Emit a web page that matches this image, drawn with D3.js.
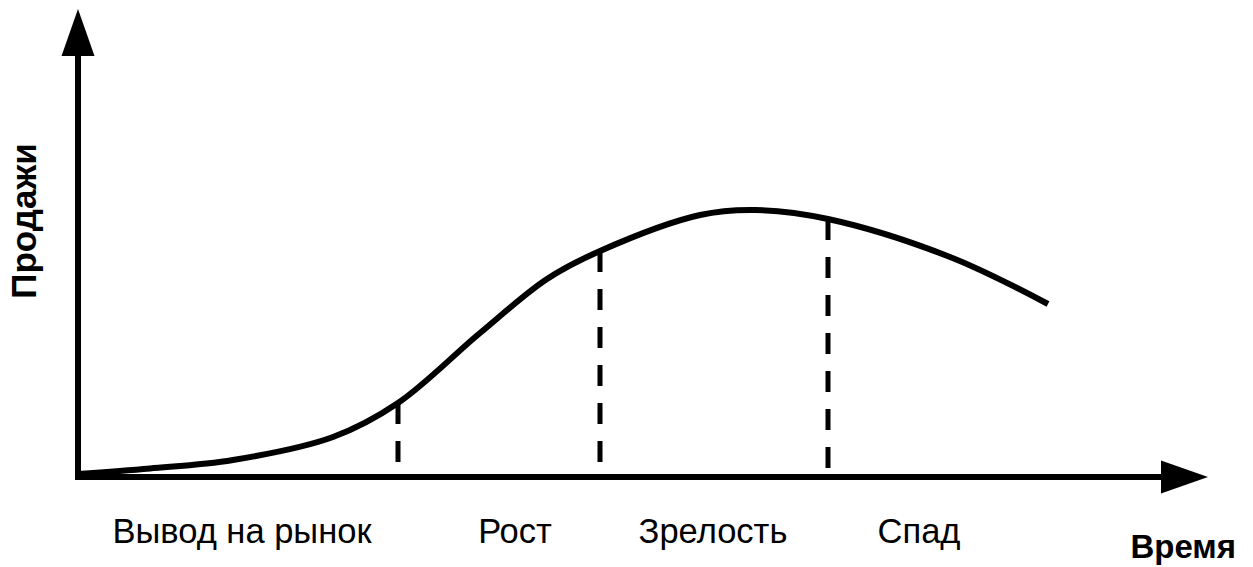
<!DOCTYPE html>
<html>
<head>
<meta charset="utf-8">
<script src="https://cdn.jsdelivr.net/npm/d3@7"></script>
<style>
  html, body { margin: 0; padding: 0; background: #fff; }
  svg { display: block; font-family: "Liberation Sans", Arial, sans-serif; }
</style>
</head>
<body>
<svg id="chart"></svg>
<script>
// time (x) and sales (y)
var times = [0, 7.2, 15.5, 25.5, 32, 40.2, 46.9, 52.2, 62.2, 67.7, 75, 87.2, 97];
var sales = [0.6, 1.7, 3.4, 8, 14.8, 28.8, 39.6, 45.2, 52.4, 53.4, 51.6, 44, 34.6];

// stage boundaries (index into the curve points above)
var boundaryIdx = [4, 7, 10];

var stages = ['Вывод на рынок', 'Рост', 'Зрелость', 'Спад'];
var stageLabelX = [16.4, 43.7, 63.5, 84.1];

var xLabel = 'Время';
var yLabel = 'Продажи';

var width = 1253, height = 567;

var svg = d3.select('#chart')
    .attr('width', width)
    .attr('height', height);

// set the ranges
var x = d3.scaleLinear().domain([0, 113]).range([78, 1208]);
var y = d3.scaleLinear().domain([0, 93.6]).range([477, 9]);

var data = times.map(function(t, i) { return {t: t, v: sales[i]}; });

// axes with arrow heads
var arrowLen = 47, arrowHalf = 16.5;
svg.append('line')
    .attr('x1', x(0)).attr('y1', y(0) + 3)
    .attr('x2', x(0)).attr('y2', y(93.6) + arrowLen - 2)
    .attr('stroke', '#000').attr('stroke-width', 6);
svg.append('line')
    .attr('x1', x(0) - 3).attr('y1', y(0))
    .attr('x2', x(113) - arrowLen + 2).attr('y2', y(0))
    .attr('stroke', '#000').attr('stroke-width', 6);

svg.append('path')
    .attr('d', 'M' + x(0) + ',' + y(93.6) +
               'L' + (x(0) + arrowHalf) + ',' + (y(93.6) + arrowLen) +
               'L' + (x(0) - arrowHalf) + ',' + (y(93.6) + arrowLen) + 'Z')
    .attr('fill', '#000');
svg.append('path')
    .attr('d', 'M' + x(113) + ',' + y(0) +
               'L' + (x(113) - arrowLen) + ',' + (y(0) - arrowHalf) +
               'L' + (x(113) - arrowLen) + ',' + (y(0) + arrowHalf) + 'Z')
    .attr('fill', '#000');

// dashed stage dividers
svg.selectAll('.divider')
    .data(boundaryIdx)
    .enter().append('line')
    .attr('class', 'divider')
    .attr('x1', function(i) { return x(times[i]); })
    .attr('x2', function(i) { return x(times[i]); })
    .attr('y1', function(i) { return y(sales[i]); })
    .attr('y2', y(0) - 8)
    .attr('stroke', '#000')
    .attr('stroke-width', 5)
    .attr('stroke-dasharray', '21,17');

// the sales curve
var valueline = d3.line()
    .x(function(d) { return x(d.t); })
    .y(function(d) { return y(d.v); })
    .curve(d3.curveCatmullRom.alpha(0.5));

svg.append('path')
    .datum(data)
    .attr('d', valueline)
    .attr('fill', 'none')
    .attr('stroke', '#000')
    .attr('stroke-width', 6)
    .attr('stroke-linecap', 'butt');

// stage names
svg.selectAll('.stage')
    .data(stages)
    .enter().append('text')
    .attr('class', 'stage')
    .attr('x', function(d, i) { return x(stageLabelX[i]); })
    .attr('y', 543)
    .attr('text-anchor', 'middle')
    .style('font-size', '34.5px')
    .attr('fill', '#000')
    .text(function(d) { return d; });

// axis titles
svg.append('text')
    .attr('x', 1236)
    .attr('y', 558)
    .attr('text-anchor', 'end')
    .style('font-size', '33px')
    .style('font-weight', 'bold')
    .text(xLabel);

svg.append('text')
    .attr('transform', 'translate(36,221) rotate(-90)')
    .attr('text-anchor', 'middle')
    .style('font-size', '35px')
    .style('font-weight', 'bold')
    .text(yLabel);
</script>
</body>
</html>
